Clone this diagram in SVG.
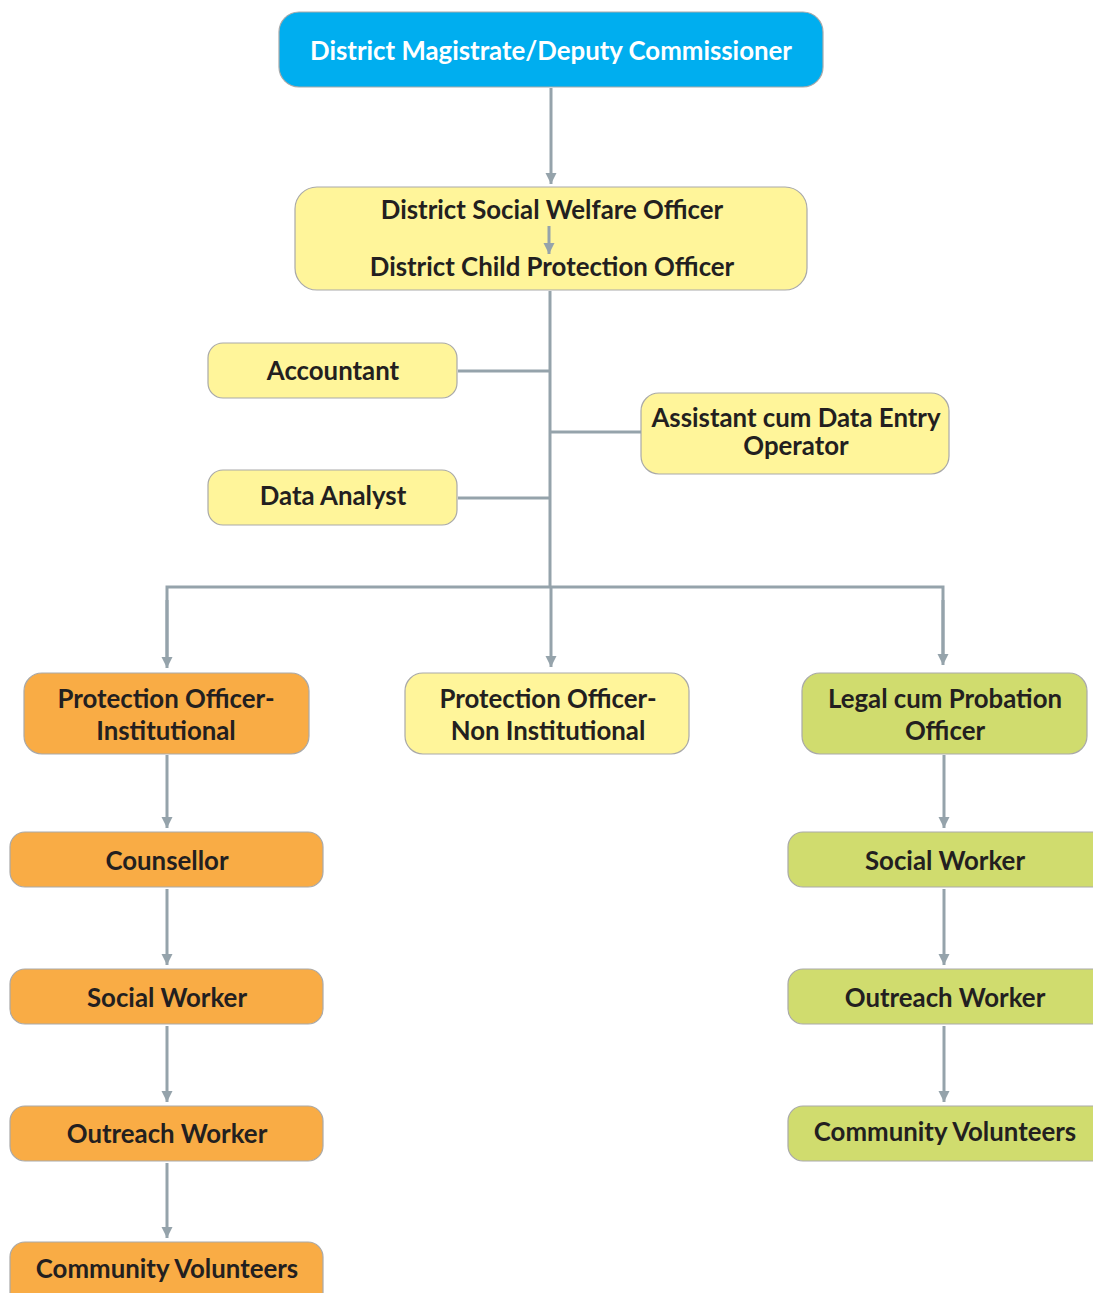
<svg xmlns="http://www.w3.org/2000/svg" width="1093" height="1293" viewBox="0 0 1093 1293">
<defs>
<marker id="ah" viewBox="0 0 10 10" refX="10" refY="5" markerWidth="11" markerHeight="12" markerUnits="userSpaceOnUse" orient="auto">
<path d="M0,0 L10,5 L0,10 Z" fill="#95A3AB"/>
</marker>
<style>
.box{stroke:#A9A9A9;stroke-width:1.2}
.blue{fill:#00AEEF}
.yel{fill:#FFF59A}
.org{fill:#F9AC45}
.grn{fill:#D0DC6E}
text{font-family:Lato,"Open Sans","Liberation Sans",sans-serif;font-weight:bold;font-size:25.8px;fill:#231F20;text-anchor:middle}
.w{fill:#FFFFFF}
.c{stroke:#95A3AB;stroke-width:3;fill:none}
.a{stroke:#95A3AB;stroke-width:3;fill:none;marker-end:url(#ah)}
</style>
</defs>
<rect width="1093" height="1293" fill="#FFFFFF"/>
<g id="n-dm"><rect class="box blue" x="279" y="12" width="544" height="75" rx="20"/><text class="w" x="551" y="60">District Magistrate/Deputy Commissioner</text></g>
<g id="n-dswo"><rect class="box yel" x="295" y="187" width="512" height="103" rx="22"/><text x="552" y="219">District Social Welfare Officer</text><text x="552" y="276">District Child Protection Officer</text></g>
<g id="n-acc"><rect class="box yel" x="208" y="343" width="249" height="55" rx="15"/><text x="333" y="380">Accountant</text></g>
<g id="n-da"><rect class="box yel" x="208" y="470" width="249" height="55" rx="15"/><text x="333" y="505">Data Analyst</text></g>
<g id="n-asst"><rect class="box yel" x="641" y="393" width="308" height="81" rx="18"/><text x="796" y="427">Assistant cum Data Entry</text><text x="796" y="455">Operator</text></g>
<g id="n-poi"><rect class="box org" x="24" y="673" width="285" height="81" rx="18"/><text x="166" y="708">Protection Officer-</text><text x="166" y="740">Institutional</text></g>
<g id="n-poni"><rect class="box yel" x="405" y="673" width="284" height="81" rx="18"/><text x="548" y="708">Protection Officer-</text><text x="548" y="740">Non Institutional</text></g>
<g id="n-lpo"><rect class="box grn" x="802" y="673" width="285" height="81" rx="18"/><text x="945" y="708">Legal cum Probation</text><text x="945" y="740">Officer</text></g>
<g id="n-cou"><rect class="box org" x="10" y="832" width="313" height="55" rx="15"/><text x="167" y="870">Counsellor</text></g>
<g id="n-sw1"><rect class="box org" x="10" y="969" width="313" height="55" rx="15"/><text x="167" y="1007">Social Worker</text></g>
<g id="n-ow1"><rect class="box org" x="10" y="1106" width="313" height="55" rx="15"/><text x="167" y="1143">Outreach Worker</text></g>
<g id="n-cv1"><rect class="box org" x="10" y="1242" width="313" height="70" rx="15"/><text x="167" y="1278">Community Volunteers</text></g>
<g id="n-sw2"><rect class="box grn" x="788" y="832" width="320" height="55" rx="15"/><text x="945" y="870">Social Worker</text></g>
<g id="n-ow2"><rect class="box grn" x="788" y="969" width="320" height="55" rx="15"/><text x="945" y="1007">Outreach Worker</text></g>
<g id="n-cv2"><rect class="box grn" x="788" y="1106" width="320" height="55" rx="15"/><text x="945" y="1141">Community Volunteers</text></g>
<g id="connectors">
<line class="a" x1="551" y1="88" x2="551" y2="184"/>
<line class="a" x1="549" y1="226" x2="549" y2="254"/>
<line class="c" x1="550" y1="291" x2="550" y2="588"/>
<line class="c" x1="458" y1="371" x2="550" y2="371"/>
<line class="c" x1="458" y1="498" x2="550" y2="498"/>
<line class="c" x1="550" y1="432" x2="641" y2="432"/>
<polyline class="c" points="167,660 167,587 943,587 943,658"/>
<line class="a" x1="167" y1="600" x2="167" y2="668"/>
<line class="a" x1="551" y1="588" x2="551" y2="667"/>
<line class="a" x1="943" y1="600" x2="943" y2="665"/>
<line class="a" x1="167" y1="755" x2="167" y2="828"/>
<line class="a" x1="167" y1="889" x2="167" y2="965"/>
<line class="a" x1="167" y1="1026" x2="167" y2="1102"/>
<line class="a" x1="167" y1="1163" x2="167" y2="1238"/>
<line class="a" x1="944" y1="755" x2="944" y2="828"/>
<line class="a" x1="944" y1="889" x2="944" y2="965"/>
<line class="a" x1="944" y1="1026" x2="944" y2="1102"/>
</g>
</svg>
